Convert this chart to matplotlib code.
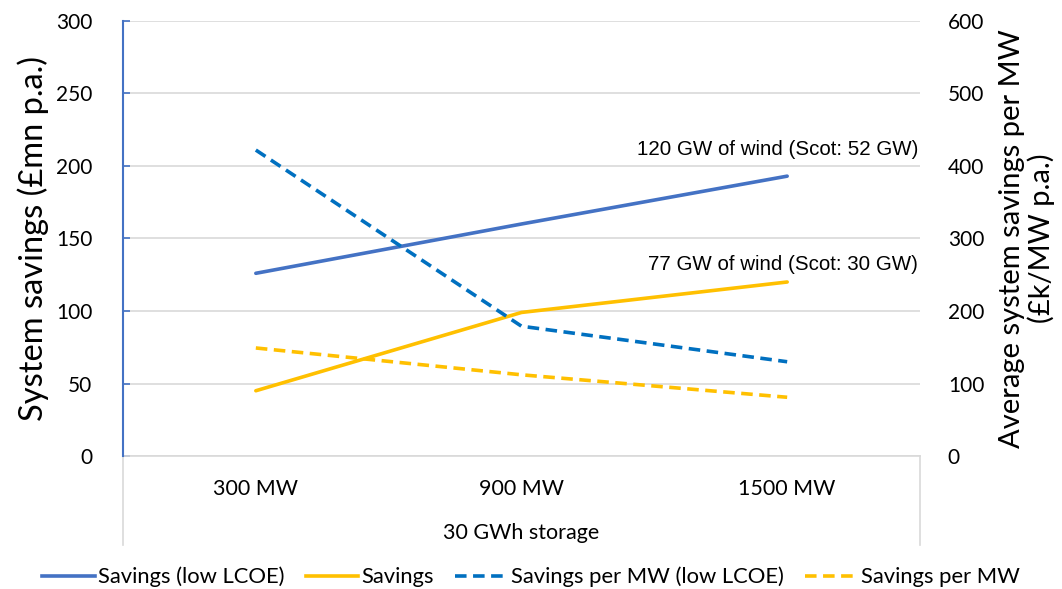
import matplotlib
matplotlib.use('Agg')
import matplotlib.pyplot as plt
from matplotlib.lines import Line2D

plt.rcParams['font.family'] = ['Lato', 'DejaVu Sans']

# chart data
categories = ['300 MW', '900 MW', '1500 MW']
group_label = '30 GWh storage'
savings_low_lcoe = [126, 160, 193]        # left axis, GBP mn p.a.
savings = [45, 99, 120]                   # left axis
per_mw_low_lcoe = [422, 179, 130]         # right axis, GBP k/MW p.a.
per_mw = [149, 112, 81]                   # right axis
left_ticks = [0, 50, 100, 150, 200, 250, 300]
right_ticks = [0, 100, 200, 300, 400, 500, 600]

blue = '#4472C4'
blue_dash = '#0070C0'
gold = '#FFC000'
grid = '#D9D9D9'
tickfs = 15
lw = 2.6
dash = (0, (3.2, 1.8))

fig = plt.figure(figsize=(10.62, 5.89), dpi=100)
ax = fig.add_axes([123/1062, 1 - 456/589, 797/1062, 435/589])
ax2 = ax.twinx()

x = list(range(len(categories)))
ax.plot(x, savings_low_lcoe, color=blue, lw=lw, solid_capstyle='round', zorder=3)
ax.plot(x, savings, color=gold, lw=lw, solid_capstyle='round', zorder=3)
ax2.plot(x, per_mw_low_lcoe, color=blue_dash, lw=lw, linestyle=dash, zorder=3)
ax2.plot(x, per_mw, color=gold, lw=lw, linestyle=dash, zorder=3)

ax.set_xlim(-0.5, 2.5)
ax.set_ylim(0, 300)
ax2.set_ylim(0, 600)
ax.set_yticks(left_ticks)
ax2.set_yticks(right_ticks)
ax.set_xticks([])
ax.yaxis.grid(True, color=grid, lw=1.2)
ax.set_axisbelow(True)

for s in ['top', 'right', 'bottom']:
    ax.spines[s].set_visible(False)
for s in ax2.spines.values():
    s.set_visible(False)
ax.spines['left'].set_color(blue)
ax.spines['left'].set_linewidth(1.5)
ax.tick_params(axis='y', direction='in', length=5, color=blue, width=1.2,
               labelsize=tickfs, labelcolor='black', pad=22)
ax2.tick_params(axis='y', length=0, labelsize=tickfs, labelcolor='black', pad=20)
for lab in ax2.get_yticklabels():
    lab.set_horizontalalignment('left')

# category axis (Excel style multi-level)
ax.plot([0, 1], [0, 0], transform=ax.transAxes, color=grid, lw=1.2, clip_on=False, zorder=1)
for xx in [0, 1]:
    ax.plot([xx, xx], [0, -0.205], transform=ax.transAxes, color=grid, lw=1.2,
            clip_on=False, zorder=1)
for i, c in enumerate(categories):
    ax.text(i, -0.075, c, transform=ax.get_xaxis_transform(), ha='center',
            va='center', fontsize=15.5)
ax.text(0.5, -0.177, group_label, transform=ax.transAxes, ha='center',
        va='center', fontsize=15.5)

ax.set_ylabel('System savings (£mn p.a.)', fontsize=23.5, labelpad=5)
ax2.set_ylabel('Average system savings per MW\n(£k/MW p.a.)', fontsize=21,
               labelpad=11, linespacing=1.1)

ax.text(0.9975, 0.704, '120 GW of wind (Scot: 52 GW)', transform=ax.transAxes,
        ha='right', va='center', fontsize=14.8, family='Liberation Sans')
ax.text(0.9975, 0.441, '77 GW of wind (Scot: 30 GW)', transform=ax.transAxes,
        ha='right', va='center', fontsize=14.8, family='Liberation Sans')

handles = [Line2D([], [], color=blue, lw=lw),
           Line2D([], [], color=gold, lw=lw),
           Line2D([], [], color=blue_dash, lw=lw, linestyle=dash),
           Line2D([], [], color=gold, lw=lw, linestyle=dash)]
labels = ['Savings (low LCOE)', 'Savings', 'Savings per MW (low LCOE)', 'Savings per MW']
fig.legend(handles, labels, loc='center', bbox_to_anchor=(0.5, 1 - 577/589),
           ncol=4, frameon=False, fontsize=15.8, handlelength=2.4,
           handletextpad=0.15, columnspacing=0.95)

fig.savefig('out.png', dpi=100)
